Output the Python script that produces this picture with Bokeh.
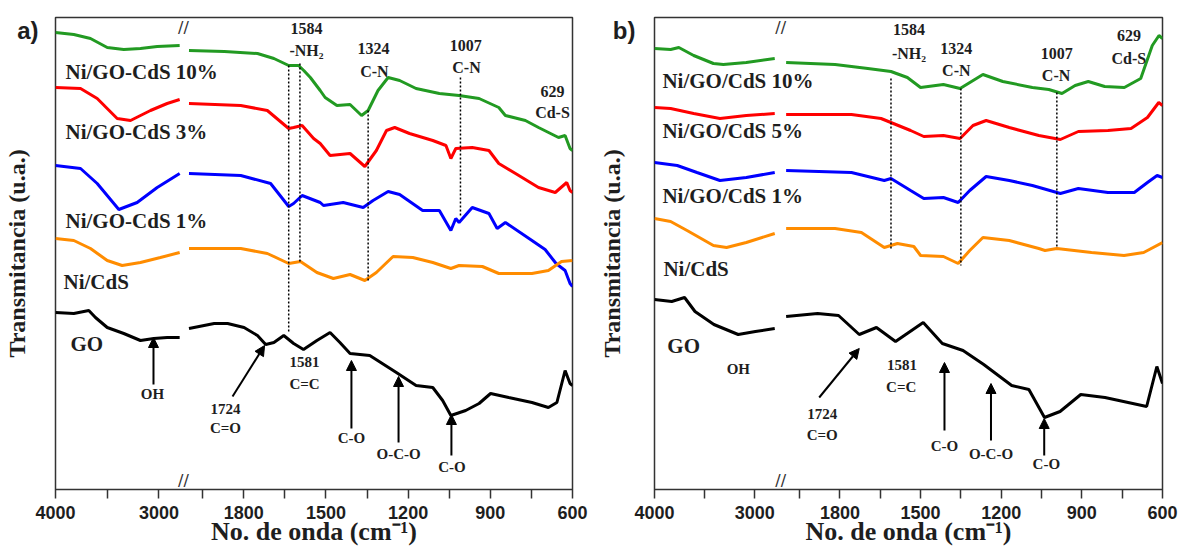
from bokeh.plotting import figure
from bokeh.models import Range1d, LinearAxis, FixedTicker, Label, Arrow, NormalHead
from bokeh.layouts import row
from bokeh.embed import file_html
from bokeh.resources import INLINE
from bokeh.core.properties import value

# ------------------------------------------------------------------ data
# Wavenumber (cm-1) and transmittance (a.u., stacked).
# Segment 1: 4000-2800 cm-1, segment 2: 2000-600 cm-1 (broken axis).

# ---- panel a
a10_wn1 = [4000, 3823, 3662, 3500, 3340, 3179, 3017, 2800]
a10_t1 = [457, 455, 451, 442, 440, 441, 443, 444]
a10_wn2 = [2000, 1871, 1750, 1690, 1636, 1600, 1581, 1557, 1521, 1503, 1460, 1412, 1370, 1346,
           1310, 1273, 1231, 1171, 1086, 1014, 941, 869, 845, 772, 724, 651, 627, 609, 600]
a10_t2 = [439, 438, 436, 431, 424, 424, 419, 412, 399, 392, 384, 385, 374, 379,
          399, 412, 409, 401, 396, 394, 391, 382, 374, 369, 362, 352, 354, 341, 339]

a3_wn1 = [4000, 3758, 3597, 3404, 3275, 3082, 2921, 2800]
a3_t1 = [402, 401, 391, 371, 369, 379, 386, 390]
a3_wn2 = [2000, 1811, 1714, 1636, 1618, 1587, 1545, 1521, 1485, 1412, 1358, 1316, 1279, 1249,
          1195, 1110, 1062, 1044, 1026, 966, 905, 869, 808, 724, 663, 621, 609, 600]
a3_t2 = [386, 384, 379, 361, 362, 364, 351, 346, 334, 336, 323, 339, 359, 362,
         356, 349, 344, 331, 341, 342, 339, 326, 316, 302, 297, 307, 299, 297]

a1_wn1 = [4000, 3758, 3597, 3388, 3211, 3017, 2800]
a1_t1 = [324, 321, 306, 280, 287, 302, 316]
a1_wn2 = [2000, 1811, 1702, 1636, 1618, 1587, 1521, 1509, 1437, 1364, 1328, 1273, 1231, 1147,
          1086, 1044, 1026, 1014, 966, 905, 875, 845, 748, 700, 660, 627, 609, 600]
a1_t2 = [316, 314, 306, 283, 286, 294, 287, 284, 287, 282, 289, 298, 295, 279,
         279, 259, 271, 267, 282, 276, 261, 267, 249, 240, 226, 219, 206, 203]

acds_wn1 = [4000, 3823, 3662, 3500, 3356, 3179, 2986, 2800]
acds_t1 = [251, 249, 241, 229, 224, 227, 232, 237]
acds_wn2 = [2000, 1811, 1714, 1636, 1593, 1533, 1473, 1412, 1358, 1316, 1255, 1183, 1110, 1044,
            1014, 929, 869, 748, 688, 640, 600]
acds_t2 = [241, 241, 236, 226, 228, 217, 211, 215, 209, 217, 233, 232, 227, 221,
           224, 223, 216, 216, 219, 228, 229]

ago_wn1 = [4000, 3823, 3678, 3614, 3500, 3340, 3179, 3050, 2921, 2800]
ago_t1 = [177, 176, 179, 172, 162, 156, 149, 151, 152, 152]
ago_wn2 = [2000, 1908, 1859, 1799, 1750, 1720, 1690, 1654, 1618, 1582, 1533, 1485, 1449, 1412,
           1340, 1243, 1171, 1110, 1074, 1044, 990, 941, 899, 833, 748, 688, 657, 627, 609, 600]
ago_t2 = [161, 166, 166, 162, 154, 145, 147, 154, 146, 140, 149, 157, 147, 136,
          134, 117, 104, 102, 89, 74, 79, 86, 96, 92, 87, 82, 87, 119, 106, 104]

# ---- panel b
b10_wn1 = [4000, 3839, 3757, 3609, 3412, 3313, 3084, 2800]
b10_t1 = [441, 440, 442, 434, 426, 425, 427, 431]
b10_wn2 = [2000, 1818, 1696, 1610, 1549, 1500, 1415, 1353, 1268, 1194, 1084, 1023, 974, 925,
           876, 815, 742, 681, 638, 613, 600]
b10_t2 = [427, 425, 421, 418, 412, 402, 405, 401, 415, 408, 402, 400, 396, 404,
          408, 403, 402, 411, 444, 454, 451]

b5_wn1 = [4000, 3839, 3609, 3347, 3084, 2800]
b5_t1 = [382, 381, 376, 371, 374, 376]
b5_wn2 = [2000, 1757, 1647, 1537, 1488, 1415, 1353, 1305, 1256, 1170, 1060, 980, 913, 803,
          717, 656, 614, 600]
b5_t2 = [375, 375, 371, 359, 353, 354, 351, 364, 369, 362, 354, 350, 358, 359,
         361, 372, 387, 384]

b1_wn1 = [4000, 3773, 3576, 3347, 3084, 2800]
b1_t1 = [327, 324, 317, 309, 312, 317]
b1_wn2 = [2000, 1757, 1635, 1610, 1537, 1488, 1415, 1360, 1317, 1256, 1170, 1084, 980, 913,
          803, 705, 656, 620, 600]
b1_t2 = [319, 317, 309, 311, 299, 291, 292, 287, 299, 313, 309, 304, 296, 301,
         297, 297, 307, 314, 312]

bcds_wn1 = [4000, 3839, 3675, 3412, 3281, 3084, 2800]
bcds_t1 = [271, 268, 259, 244, 242, 247, 256]
bcds_wn2 = [2000, 1818, 1720, 1635, 1586, 1525, 1500, 1415, 1360, 1317, 1268, 1170, 1060, 1037,
            993, 864, 743, 670, 600]
bcds_t2 = [261, 261, 257, 242, 246, 243, 234, 233, 226, 239, 252, 249, 241, 239,
           241, 237, 234, 237, 247]

bgo_wn1 = [4000, 3828, 3700, 3596, 3407, 3165, 2993, 2800]
bgo_t1 = [190, 188, 192, 178, 165, 155, 158, 161]
bgo_wn2 = [2000, 1883, 1805, 1728, 1664, 1593, 1490, 1419, 1342, 1265, 1161, 1097, 1039, 981,
           904, 814, 659, 621, 600]
bgo_t2 = [173, 176, 174, 155, 162, 148, 167, 146, 139, 125, 104, 100, 72, 78,
          95, 92, 83, 123, 106]

# ---- labels
names_a = ["Ni/GO-CdS 10%", "Ni/GO-CdS 3%", "Ni/GO-CdS 1%", "Ni/CdS", "GO"]
names_b = ["Ni/GO/CdS 10%", "Ni/GO/CdS 5%", "Ni/GO/CdS 1%", "Ni/CdS", "GO"]
top_texts = ["1584", "-NH\u2082", "1324", "C-N", "1007", "C-N", "629", "Cd-S"]
low_texts = ["1724", "C=O", "1581", "C=C", "C-O", "O-C-O", "C-O"]
guides_a = [1636, 1595, 1346, 1009]
guides_b = [1610, 1350, 993]
arrow_wn_a = [1724, 1407, 1235, 1042]
arrow_wn_b = [1728, 1411, 1238, 1040]
oh_wn_a = 3053
oh_wn_b = 3163

tick_labels_1 = [4000, 3000]
tick_minor_1 = [3500]
tick_labels_2 = [1800, 1500, 1200, 900, 600]
tick_minor_2 = [1950, 1650, 1350, 1050, 750]

x_title = "No. de onda (cm\u207b\u00b9)"
y_title = "Transmitancia (u.a.)"

# ------------------------------------------------------------------ style / layout
INK = "#1e1e1e"
FRAME = "#333333"
SERIF = "Liberation Serif"
SANS = "Liberation Sans"
COLORS = ["#229a22", "#ff0000", "#0000ff", "#ff8c00", "#000000"]
SEG1_START = 4000
SEG2 = (2020, 600)
H = 550
TOP = 17
FRAME_H = 472
LETTER_Y = 459


def build(cfg):
    w1, w2 = cfg["w1"], cfg["w2"]
    seg1_end = cfg["seg1_end"]
    main_start = SEG2[0] + (SEG2[0] - SEG2[1]) * w1 / w2
    seg1_full_end = SEG1_START - (SEG1_START - seg1_end) * (w1 + w2) / w1

    def seg1_pos(w):
        # position of a segment-1 wavenumber on the main (segment-2) axis
        return main_start - (SEG1_START - w) * (main_start - SEG2[0]) / (SEG1_START - seg1_end)

    p = figure(width=cfg["bl"] + w1 + w2 + cfg["br"], height=H,
               x_range=Range1d(main_start, SEG2[1]), y_range=Range1d(0, FRAME_H),
               x_axis_location=None, y_axis_location=None,
               min_border_left=cfg["bl"], min_border_right=cfg["br"],
               min_border_top=TOP, min_border_bottom=H - TOP - FRAME_H,
               output_backend="svg", toolbar_location=None)
    p.extra_x_ranges = {"seg1": Range1d(SEG1_START, seg1_full_end)}
    p.outline_line_color = FRAME
    p.outline_line_width = 1.5
    p.background_fill_color = "white"
    p.border_fill_color = "white"
    p.grid.visible = False

    major = [seg1_pos(w) for w in tick_labels_1] + tick_labels_2
    minor = [seg1_pos(w) for w in tick_minor_1] + tick_minor_2
    overrides = {seg1_pos(w): str(w) for w in tick_labels_1}
    ax = LinearAxis(ticker=FixedTicker(ticks=major, minor_ticks=minor),
                    major_label_overrides=overrides, axis_label=x_title)
    ax.axis_line_color = None
    ax.major_tick_line_color = FRAME
    ax.minor_tick_line_color = FRAME
    ax.major_tick_line_width = 1.5
    ax.minor_tick_line_width = 1.5
    ax.major_tick_in = 0
    ax.major_tick_out = 9
    ax.minor_tick_in = 0
    ax.minor_tick_out = 9
    ax.major_label_standoff = 7
    ax.major_label_text_font = SANS
    ax.major_label_text_font_style = "bold"
    ax.major_label_text_font_size = "18px"
    ax.major_label_text_color = INK
    ax.axis_label_standoff = -5
    ax.axis_label_text_font = SERIF
    ax.axis_label_text_font_style = "bold"
    ax.axis_label_text_font_size = "26px"
    ax.axis_label_text_color = INK
    p.add_layout(ax, "below")

    ay = LinearAxis(ticker=FixedTicker(ticks=[LETTER_Y]),
                    major_label_overrides={LETTER_Y: cfg["letter"]},
                    axis_label=y_title, axis_line_color=None,
                    major_tick_line_color=None, minor_tick_line_color=None,
                    major_tick_in=0, major_tick_out=0,
                    major_label_standoff=cfg["lstand"],
                    major_label_text_font=SANS, major_label_text_font_style="bold",
                    major_label_text_font_size="24px", major_label_text_color=INK,
                    axis_label_standoff=cfg["ystand"],
                    axis_label_text_font=SERIF, axis_label_text_font_style="bold",
                    axis_label_text_font_size="24px", axis_label_text_color=INK)
    p.add_layout(ay, "left")

    # curves
    for (wn1, t1, wn2, t2), c in zip(cfg["series"], COLORS):
        p.line(wn1, t1, line_color=c, line_width=3, x_range_name="seg1")
        p.line(wn2, t2, line_color=c, line_width=3)

    # dotted guides
    p.segment(x0=cfg["guides"], y0=cfg["g_top"], x1=cfg["guides"], y1=cfg["g_bot"],
              line_color="black", line_width=1.5, line_dash="2 2")

    # series names
    p.text(x=cfg["names_x"], y=cfg["names_y"], text=cfg["names"], x_range_name="seg1",
           text_font=value(SERIF), text_font_style="bold", text_font_size="21px",
           text_align="left", text_baseline="middle", text_color=INK)

    # band labels
    p.text(x=cfg["top_x"], y=cfg["top_y"], text=top_texts, text_font=value(SERIF),
           text_font_style="bold", text_font_size="16px", text_align="center",
           text_baseline="middle", text_color=INK)
    p.text(x=cfg["low_x"], y=cfg["low_y"], text=low_texts, text_font=value(SERIF),
           text_font_style="bold", text_font_size="15px", text_align="center",
           text_baseline="middle", text_color=INK)
    p.text(x=[cfg["oh_x"]], y=[cfg["oh_y"]], text=["OH"], x_range_name="seg1",
           text_font=value(SERIF), text_font_style="bold", text_font_size="15px",
           text_align="center", text_baseline="middle", text_color=INK)

    # arrows
    for x0, y0, x1, y1 in zip(cfg["ar_x0"], cfg["ar_y0"], cfg["ar_x1"], cfg["ar_y1"]):
        p.add_layout(Arrow(end=NormalHead(size=10, fill_color="black", line_color="black"),
                           x_start=x0, y_start=y0, x_end=x1, y_end=y1,
                           line_color="black", line_width=2))
    if cfg.get("oh_arrow"):
        x0, y0, y1 = cfg["oh_arrow"]
        p.add_layout(Arrow(end=NormalHead(size=10, fill_color="black", line_color="black"),
                           x_start=x0, y_start=y0, x_end=x0, y_end=y1,
                           line_color="black", line_width=2, x_range_name="seg1"))

    # break marks (inside the frame edges)
    for yb, base in ((0, "bottom"), (FRAME_H, "top")):
        p.add_layout(Label(x=SEG2[0], y=yb, text="//", text_align="center",
                           text_baseline=base, text_font="DejaVu Sans",
                           text_font_size="16px", text_color=FRAME))
    return p


cfg_a = dict(
    w1=128, w2=389, bl=55, br=23, seg1_end=2763, lstand=17, ystand=-16, letter="a)",
    series=[(a10_wn1, a10_t1, a10_wn2, a10_t2), (a3_wn1, a3_t1, a3_wn2, a3_t2),
            (a1_wn1, a1_t1, a1_wn2, a1_t2), (acds_wn1, acds_t1, acds_wn2, acds_t2),
            (ago_wn1, ago_t1, ago_wn2, ago_t2)],
    guides=guides_a, g_top=[424, 426, 379, 412], g_bot=[157, 226, 209, 272],
    names=names_a, names_x=[3903, 3903, 3903, 3923, 3855], names_y=[418, 358, 269, 208, 146],
    top_x=[1571, 1571, 1326, 1323, 990, 987, 673, 673],
    top_y=[461, 439, 441, 418, 444, 422, 398, 377],
    low_x=[1867, 1867, 1578, 1578, 1407, 1235, 1040],
    low_y=[81, 62, 128, 106, 52, 36, 23],
    ar_x0=[1841, arrow_wn_a[1], arrow_wn_a[2], arrow_wn_a[3]], ar_y0=[93, 61, 47, 34],
    ar_x1=arrow_wn_a, ar_y1=[144, 129, 113, 75],
    oh_x=3063, oh_y=96, oh_arrow=(oh_wn_a, 105, 152),
)

cfg_b = dict(
    w1=128, w2=387, bl=52, br=18, seg1_end=2740, lstand=19, ystand=-15, letter="b)",
    series=[(b10_wn1, b10_t1, b10_wn2, b10_t2), (b5_wn1, b5_t1, b5_wn2, b5_t2),
            (b1_wn1, b1_t1, b1_wn2, b1_t2), (bcds_wn1, bcds_t1, bcds_wn2, bcds_t2),
            (bgo_wn1, bgo_t1, bgo_wn2, bgo_t2)],
    guides=guides_b, g_top=[411, 401, 397], g_bot=[241, 224, 241],
    names=names_b, names_x=[3921, 3921, 3921, 3911, 3872], names_y=[409, 359, 294, 221, 144],
    top_x=[1543, 1543, 1367, 1367, 993, 996, 725, 725],
    top_y=[460, 436, 441, 419, 436, 414, 454, 431],
    low_x=[1866, 1866, 1569, 1572, 1411, 1238, 1032],
    low_y=[76, 55, 125, 103, 44, 36, 26],
    ar_x0=[1877, arrow_wn_b[1], arrow_wn_b[2], arrow_wn_b[3]], ar_y0=[92, 59, 49, 34],
    ar_x1=arrow_wn_b, ar_y1=[141, 127, 106, 71],
    oh_x=oh_wn_b, oh_y=121, oh_arrow=None,
)

layout = row(build(cfg_a), build(cfg_b))
open("out.html", "w").write(file_html(layout, INLINE))
